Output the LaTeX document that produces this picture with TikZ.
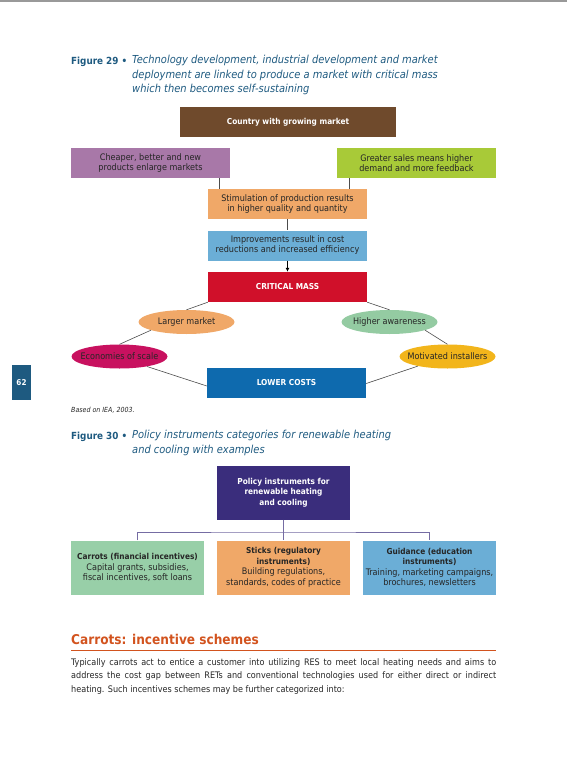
\documentclass[tikz,border=0pt]{standalone}
\usepackage{fontspec}
\setmainfont{DejaVu Sans Condensed}
\usepackage{xcolor}
\usepackage{tikz}
\usetikzlibrary{shapes,shapes.geometric,positioning,arrows.meta}
\definecolor{capblue}{HTML}{1E5A80}
\definecolor{brownbox}{HTML}{6F4A2C}
\definecolor{purplebox}{HTML}{A878A8}
\definecolor{greenbox}{HTML}{A8CA38}
\definecolor{orangebox}{HTML}{F0A868}
\definecolor{bluebox}{HTML}{6BAED6}
\definecolor{redbox}{HTML}{D0102A}
\definecolor{mintbox}{HTML}{94CBA2}
\definecolor{magentabox}{HTML}{C8115F}
\definecolor{yellowbox}{HTML}{F2B51B}
\definecolor{lowblue}{HTML}{0E6AAE}
\definecolor{indigobox}{HTML}{3A2D7C}
\definecolor{seagreen}{HTML}{98CFA8}
\definecolor{rust}{HTML}{D2531E}
\newcommand{\boxhead}[1]{{\fontsize{8.2}{10.5}\selectfont\bfseries #1}}

\begin{document}
\begin{tikzpicture}[x=1pt,y=-1pt]
\tikzstyle{box}=[rectangle,minimum width=159pt,minimum height=30pt,inner sep=1pt,align=center,text=black!85,font=\fontsize{9}{10}\selectfont]
\tikzstyle{boldbox}=[box,text=white,font=\fontsize{8.2}{10}\selectfont\bfseries]
\tikzstyle{oval}=[ellipse,minimum width=96pt,minimum height=24pt,inner xsep=-9pt,inner ysep=0pt,text=black!85,font=\fontsize{9}{10}\selectfont]
\tikzstyle{catbox}=[rectangle,minimum width=133pt,minimum height=54pt,inner sep=1pt,align=center,text=black!85,font=\fontsize{9}{10.6}\selectfont]
\tikzstyle{caption}=[inner sep=0pt,text=capblue]
\tikzstyle{link}=[draw=black!70,line width=0.6pt]
\tikzstyle{tree}=[draw=indigobox!70,line width=0.8pt]
\useasboundingbox (0,0) rectangle (567,765);
\draw[black!40,line width=1.5pt] (0,1) -- (567,1);
% Figure 29 caption
\node[caption,anchor=west,font=\fontsize{9.8}{14.5}\selectfont\bfseries] (f29) at (71,62) {Figure 29 •};
\node[caption,anchor=north west,align=left,font=\fontsize{11}{14.5}\selectfont\itshape] (t29) at (132,55) {Technology development, industrial development and market\\deployment are linked to produce a market with critical mass\\which then becomes self-sustaining};
% Figure 29 boxes
\node[boldbox,fill=brownbox,minimum width=216pt] (country) at (288,122) {Country with growing market};
\node[box,fill=purplebox] (cheap) at (150.5,163) {Cheaper, better and new\\products enlarge markets};
\node[box,fill=greenbox] (sales) at (416.5,163) {Greater sales means higher\\demand and more feedback};
\node[box,fill=orangebox] (stim) at (287.5,204) {Stimulation of production results\\in higher quality and quantity};
\node[box,fill=bluebox] (improv) at (287.5,245.5) {Improvements result in cost\\reductions and increased efficiency};
\node[boldbox,fill=redbox] (crit) at (287.5,287) {CRITICAL MASS};
\node[oval,fill=orangebox] (large) at (186.5,322) {Larger market};
\node[oval,fill=mintbox] (aware) at (389.5,322) {Higher awareness};
\node[oval,fill=magentabox] (econ) at (119.5,356.5) {Economies of scale};
\node[oval,fill=yellowbox] (motiv) at (447.5,356.5) {Motivated installers};
\node[boldbox,fill=lowblue] (lower) at (286.5,383) {LOWER COSTS};
% links
\draw[link] ([xshift=-11pt]cheap.south east) -- ([xshift=-11pt]cheap.south east |- stim.north);
\draw[link] ([xshift=12pt]sales.south west) -- ([xshift=12pt]sales.south west |- stim.north);
\draw[link] (stim) -- (improv);
\draw[-{Latex[length=4pt,width=4pt]},black,line width=0.8pt] (improv) -- (crit);
\draw[link] (crit.south west) -- (large.north);
\draw[link] (large.193) -- (econ.north);
\draw[link] (econ.340) -- ([yshift=-3pt]lower.west);
\draw[link] (crit.south east) -- (aware.north);
\draw[link] (aware.347) -- (motiv.north);
\draw[link] (motiv.198) -- ([yshift=-0.5pt]lower.east);
% page number and source
\node[fill=capblue,minimum width=19pt,minimum height=35pt,inner sep=0pt,text=white,font=\fontsize{8}{10}\selectfont\bfseries] (page) at (21.5,382.5) {62};
\node[anchor=west,inner sep=0pt,text=black!85,font=\fontsize{7}{8}\selectfont\itshape] (src) at (71,410) {Based on IEA, 2003.};
% Figure 30 caption
\node[caption,anchor=west,font=\fontsize{9.8}{14.5}\selectfont\bfseries] (f30) at (71,437) {Figure 30 •};
\node[caption,anchor=north west,align=left,font=\fontsize{11}{14.5}\selectfont\itshape] (t30) at (132,430) {Policy instruments categories for renewable heating\\and cooling with examples};
% Figure 30 tree
\node[catbox,fill=indigobox,text=white,font=\fontsize{8.2}{10.5}\selectfont\bfseries] (policy) at (283.5,492.5) {Policy instruments for\\renewable heating\\and cooling};
\node[catbox,fill=seagreen] (carrots) at (137.5,567.5) {\boxhead{Carrots (financial incentives)}\\Capital grants, subsidies,\\fiscal incentives, soft loans};
\node[catbox,fill=orangebox] (sticks) at (283.5,567.5) {\boxhead{Sticks (regulatory}\\\boxhead{instruments)}\\Building regulations,\\standards, codes of practice};
\node[catbox,fill=bluebox] (guide) at (429.5,567.5) {\boxhead{Guidance (education}\\\boxhead{instruments)}\\Training, marketing campaigns,\\brochures, newsletters};
\coordinate (fork) at (283.5,532);
\draw[tree] (policy) -- (sticks);
\draw[tree] (carrots.north) |- (fork) -| (guide.north);
% text section
\node[anchor=west,inner sep=0pt,text=rust,font=\fontsize{13.5}{16}\selectfont\bfseries] (head) at (71,639) {Carrots: incentive schemes};
\draw[rust,line width=0.7pt] (71,650) -- (496,650);
\node[anchor=west,inner sep=0pt,text=black!85,font=\fontsize{9}{12}\selectfont] (p1) at (71,663) {\makebox[425pt][s]{Typically carrots act to entice a customer into utilizing RES to meet local heating needs and aims to}};
\node[anchor=west,inner sep=0pt,text=black!85,font=\fontsize{9}{12}\selectfont] (p2) at (71,676.5) {\makebox[425pt][s]{address the cost gap between RETs and conventional technologies used for either direct or indirect}};
\node[anchor=west,inner sep=0pt,text=black!85,font=\fontsize{9}{12}\selectfont] (p3) at (71,690) {heating. Such incentives schemes may be further categorized into:};
\end{tikzpicture}
\end{document}
